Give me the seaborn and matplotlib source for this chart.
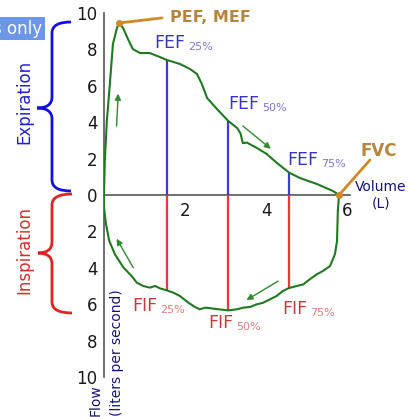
import matplotlib
matplotlib.use("Agg")
import matplotlib.pyplot as plt
from matplotlib.path import Path
from matplotlib.patches import PathPatch
import pandas as pd
import seaborn as sns

# Flow-volume loop: volume in litres, flow in L/s (inspiration drawn below zero)
exp_volume = [0.00, 0.02, 0.07, 0.15, 0.22, 0.32, 0.37, 0.47, 0.59, 0.71, 0.89,
              1.13, 1.31, 1.55, 1.87, 2.12, 2.29, 2.41, 2.54, 2.78, 3.06, 3.28,
              3.36, 3.42, 3.52, 3.65, 3.77, 4.01, 4.26, 4.56, 4.83, 5.25, 5.64, 5.79]
exp_flow = [0.00, 1.87, 4.07, 6.26, 8.30, 9.18, 9.45, 9.18, 8.57, 8.02, 7.80,
            7.80, 7.64, 7.42, 7.20, 6.92, 6.65, 6.10, 5.33, 4.73, 4.07, 3.68,
            3.40, 2.85, 2.88, 2.72, 2.58, 2.25, 1.76, 1.23, 0.93, 0.60, 0.22, 0.00]

insp_volume = [5.79, 5.76, 5.74, 5.69, 5.57, 5.39, 5.24, 5.07, 4.91, 4.75, 4.56,
               4.41, 4.25, 4.09, 3.92, 3.76, 3.60, 3.43, 3.27, 3.06, 2.82, 2.65,
               2.49, 2.36, 2.24, 2.08, 1.87, 1.71, 1.55, 1.38, 1.26, 1.13, 0.97,
               0.81, 0.68, 0.48, 0.27, 0.13, 0.05, 0.00, 0.00]
insp_flow = [0.00, -0.88, -2.53, -3.24, -3.90, -4.18, -4.36, -4.63, -4.91, -5.00, -5.11,
             -5.27, -5.55, -5.73, -5.92, -6.01, -6.15, -6.19, -6.28, -6.34, -6.28, -6.23,
             -6.19, -6.28, -6.15, -5.92, -5.55, -5.37, -5.24, -5.13, -5.00, -5.09, -5.00,
             -4.82, -4.45, -3.99, -3.26, -2.53, -1.61, -0.70, 0.00]

pct_labels = ["25%", "50%", "75%"]
pct_volume = [1.55, 3.06, 4.56]
fef_flow = [7.42, 4.07, 1.23]
fif_flow = [-5.24, -6.34, -5.11]

pef_volume, pef_flow = 0.37, 9.45
fvc_volume, fvc_flow = 5.79, 0.00

y_ticks = [-10, -8, -6, -4, -2, 0, 2, 4, 6, 8, 10]
y_tick_labels = ["10", "8", "6", "4", "2", "0", "2", "4", "6", "8", "10"]
x_ticks = [2, 4, 6]

GREEN = "#1f7a1f"
ARROW_GREEN = "#2e8b2e"
ORANGE_LINE = "#cf8a25"
ORANGE_TEXT = "#b8843a"
BLUE_LINE = "#3a3ade"
BLUE_TEXT = "#3a33c8"
BLUE_SUB = "#7a74d4"
RED_LINE = "#ee3636"
RED_TEXT = "#c83a3a"
RED_SUB = "#e07b7b"
NAVY = "#15157a"
W, H = 409, 417

sns.set_style("white")
fig = plt.figure(figsize=(W / 100, H / 100), dpi=100)
ax = fig.add_axes([104 / W, 40 / H, 245.6 / W, 364 / H])
ax.patch.set_alpha(0)

loop = pd.DataFrame({
    "volume": exp_volume + insp_volume,
    "flow": exp_flow + insp_flow,
})
sns.lineplot(data=loop, x="volume", y="flow", sort=False, estimator=None,
             color=GREEN, linewidth=1.5, ax=ax, zorder=4)

# FEF / FIF verticals
ax.vlines(pct_volume, 0, fef_flow, color=BLUE_LINE, linewidth=1.6, zorder=3)
ax.vlines(pct_volume, 0, fif_flow, color=RED_LINE, linewidth=1.6, zorder=3)

ax.set_xlim(0, 6.05)
ax.set_ylim(-10, 10)
for side in ("top", "right"):
    ax.spines[side].set_visible(False)
ax.spines["left"].set_position(("data", 0))
ax.spines["bottom"].set_position(("data", 0))
for side in ("left", "bottom"):
    ax.spines[side].set_color("#555555")
    ax.spines[side].set_linewidth(1.2)
ax.set_yticks(y_ticks)
ax.set_yticklabels(y_tick_labels)
ax.set_xticks(x_ticks)
ax.set_xticklabels([str(t) for t in x_ticks])
ax.tick_params(axis="y", direction="out", length=4, width=1.1, color="#555555",
               pad=0.5, labelsize=12, labelcolor="#1a1a1a")
ax.tick_params(axis="x", direction="inout", length=6, width=1.1, color="#555555",
               pad=2, labelsize=12, labelcolor="#1a1a1a")
ax.set_xlabel("")
ax.set_ylabel("")

# Labels with smaller percentage suffixes
fef_pos = [(1.23, 8.08), (3.05, 4.73), (4.51, 1.65)]
fif_pos = [(0.69, -6.37), (2.56, -7.31), (4.38, -6.54)]
for (tx, ty), lbl in zip(fef_pos, pct_labels):
    t = ax.text(tx, ty, "FEF", fontsize=12.5, color=BLUE_TEXT, ha="left", va="baseline")
    ax.annotate(lbl, xy=(1, 0), xycoords=t, xytext=(2.5, 0), textcoords="offset points",
                fontsize=8, color=BLUE_SUB, ha="left", va="bottom")
for (tx, ty), lbl in zip(fif_pos, pct_labels):
    t = ax.text(tx, ty, "FIF", fontsize=12.5, color=RED_TEXT, ha="left", va="baseline")
    ax.annotate(lbl, xy=(1, 0), xycoords=t, xytext=(2.5, 0), textcoords="offset points",
                fontsize=8, color=RED_SUB, ha="left", va="bottom")

# PEF and FVC callouts
ax.plot([pef_volume, 1.43], [pef_flow, 9.73], color=ORANGE_LINE, linewidth=2,
        clip_on=False, zorder=5)
ax.plot([pef_volume], [pef_flow], "o", ms=4, color=ORANGE_LINE, clip_on=False, zorder=6)
ax.text(1.62, 9.48, "PEF, MEF", fontsize=11.5, fontweight="bold", color=ORANGE_TEXT,
        ha="left", va="baseline")
ax.plot([fvc_volume, 6.55], [fvc_flow, 1.92], color=ORANGE_LINE, linewidth=2,
        clip_on=False, zorder=5)
ax.plot([fvc_volume], [fvc_flow], "o", ms=4, color=ORANGE_LINE, clip_on=False, zorder=6)
ax.text(6.33, 2.14, "FVC", fontsize=12, fontweight="bold", color=ORANGE_TEXT,
        ha="left", va="baseline")

ax.text(6.82, 0.80, "Volume\n(L)", fontsize=10, color=NAVY, ha="center", va="top",
        linespacing=1.15)

# Direction arrows along the loop
arrows = [((0.31, 3.79), (0.35, 5.57)), ((3.42, 3.79), (4.11, 2.54)),
          ((4.29, -4.73), (3.51, -5.77)), ((0.72, -3.99), (0.31, -2.40))]
for tail, head in arrows:
    ax.annotate("", xy=head, xytext=tail,
                arrowprops=dict(arrowstyle="-|>", color=ARROW_GREEN, lw=1.0,
                                mutation_scale=9, shrinkA=0, shrinkB=0))

# Axis title, rotated and running up from the bottom edge
fig.text(96 / W, 1 / H, "Flow", rotation=90, rotation_mode="anchor", ha="left",
         va="center", fontsize=10, color=NAVY)
fig.text(117 / W, 1 / H, "(liters per second)", rotation=90, rotation_mode="anchor",
         ha="left", va="center", fontsize=10, color=NAVY)


def brace(x_tip, x_spine, x_point, y_top, y_mid, y_bot, color, r=11):
    pts = [(x_tip, y_top), (x_spine, y_top), (x_spine, y_top + r),
           (x_spine, y_mid - r), (x_spine, y_mid), (x_point, y_mid),
           (x_spine, y_mid), (x_spine, y_mid + r),
           (x_spine, y_bot - r), (x_spine, y_bot), (x_tip, y_bot)]
    codes = [Path.MOVETO, Path.CURVE3, Path.CURVE3, Path.LINETO, Path.CURVE3,
             Path.CURVE3, Path.CURVE3, Path.CURVE3, Path.LINETO, Path.CURVE3, Path.CURVE3]
    verts = [(px / W, 1 - py / H) for px, py in pts]
    fig.add_artist(PathPatch(Path(verts, codes), facecolor="none", edgecolor=color,
                             linewidth=2, transform=fig.transFigure))


brace(71, 52, 37, 22, 108, 191, "#1010e6")
brace(72, 52, 38, 194, 253, 313, "#e22222")
fig.text(24.5 / W, 1 - 102 / H, "Expiration", rotation=90, ha="center", va="center",
         fontsize=12, color="#2020d0")
fig.text(24.5 / W, 1 - 250 / H, "Inspiration", rotation=90, ha="center", va="center",
         fontsize=12, color="#d42e2e")

fig.text(42.5 / W, 1 - 28.5 / H, "s only", ha="right", va="center", fontsize=12,
         color="white", bbox=dict(facecolor="#6c97e6", edgecolor="none", pad=1.6))

fig.savefig("out.png", dpi=100)
